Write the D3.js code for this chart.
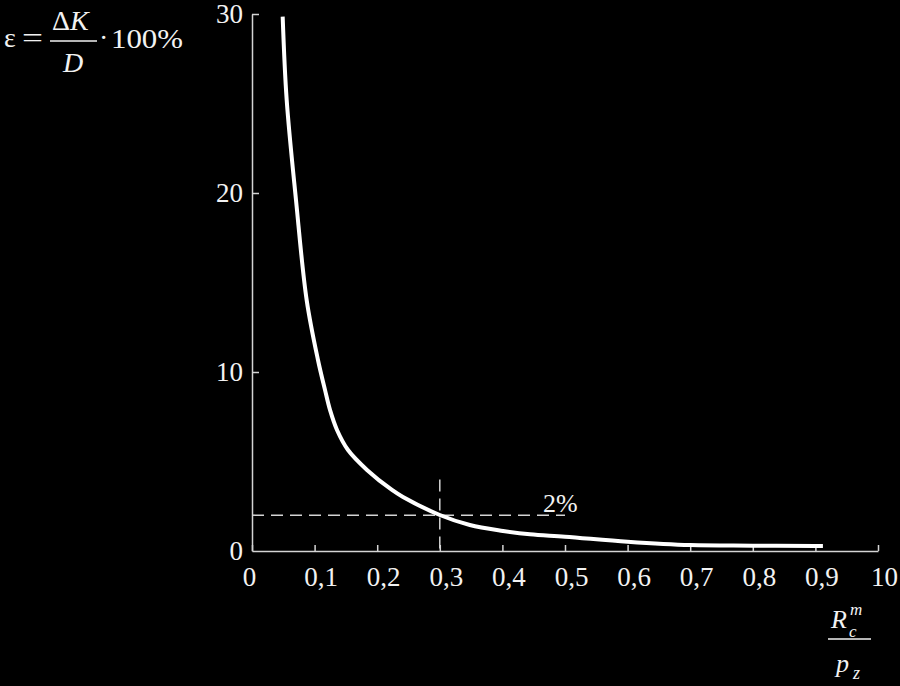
<!DOCTYPE html>
<html>
<head>
<meta charset="utf-8">
<script src="https://cdn.jsdelivr.net/npm/d3@7"></script>
<style>
  html, body { margin: 0; padding: 0; background: #000; }
  svg { display: block; }
  svg text { font-family: "Liberation Serif", "Times New Roman", Times, Tinos, "Noto Serif", "DejaVu Serif", serif; fill: #f2f2f2; }
</style>
</head>
<body>
<svg id="chart" width="900" height="686"></svg>
<script>
// ---- data ----
const xValues = [0.049, 0.0554, 0.0703, 0.0874, 0.1054, 0.1166, 0.1246, 0.1358, 0.1534, 0.1837, 0.2236, 0.2412, 0.300, 0.348, 0.401, 0.444, 0.500, 0.600, 0.700, 0.800, 0.900, 0.912];
const yValues = [29.85, 25.2, 19.6, 14.0, 10.67, 9.0, 7.88, 6.76, 5.64, 4.53, 3.41, 3.02, 2.01, 1.45, 1.12, 0.93, 0.80, 0.52, 0.33, 0.30, 0.28, 0.28];
const xTickValues = [0, 0.1, 0.2, 0.3, 0.4, 0.5, 0.6, 0.7, 0.8, 0.9, 1.0];
const xTickLabels = ["0", "0,1", "0,2", "0,3", "0,4", "0,5", "0,6", "0,7", "0,8", "0,9", "10"];
const yTickValues = [0, 10, 20, 30];
const yTickLabels = ["0", "10", "20", "30"];
const refX = 0.3, refY = 2, refYTop = 4, refXEnd = 0.5;
const refLabel = "2%";

// ---- layout ----
const serif = '"Liberation Serif", "Times New Roman", Times, Tinos, "Noto Serif", "DejaVu Serif", serif';
const svg = d3.select("#chart");
svg.append("rect").attr("width", 900).attr("height", 686).attr("fill", "#000");

const x = d3.scaleLinear().domain([0, 1]).range([252, 878]);
const y = d3.scaleLinear().domain([0, 30]).range([551, 14]);
const axisColor = "#d4d4d4";

// x axis
const gx = svg.append("g").attr("transform", `translate(0,${y(0)})`)
  .call(d3.axisBottom(x).tickValues(xTickValues)
    .tickFormat((d, i) => xTickLabels[i])
    .tickSize(-6).tickSizeOuter(0).tickPadding(16));
gx.attr("font-family", serif).attr("font-size", 27);
gx.select(".domain").attr("stroke", axisColor).attr("stroke-width", 1.5);
gx.selectAll(".tick line").attr("stroke", axisColor).attr("stroke-width", 1.5);
gx.selectAll(".tick text").attr("fill", "#f2f2f2")
  .attr("dx", (d, i) => i === 0 ? -3 : 6);

// y axis
const gy = svg.append("g").attr("transform", `translate(${x(0)},0)`)
  .call(d3.axisLeft(y).tickValues(yTickValues)
    .tickFormat((d, i) => yTickLabels[i])
    .tickSize(-7).tickSizeOuter(0).tickPadding(9));
gy.attr("font-family", serif).attr("font-size", 27);
gy.select(".domain").attr("stroke", axisColor).attr("stroke-width", 1.5);
gy.selectAll(".tick line").attr("stroke", axisColor).attr("stroke-width", 1.5);
gy.selectAll(".tick text").attr("fill", "#f2f2f2");
gy.selectAll(".tick").filter(d => d === 0).select("line").remove();

// reference dashed lines
svg.append("line")
  .attr("x1", x(0)).attr("x2", x(refXEnd)).attr("y1", y(refY)).attr("y2", y(refY))
  .attr("stroke", axisColor).attr("stroke-width", 1.5).attr("stroke-dasharray", "12,7");
svg.append("line")
  .attr("x1", x(refX)).attr("x2", x(refX)).attr("y1", y(refYTop)).attr("y2", y(0))
  .attr("stroke", axisColor).attr("stroke-width", 1.5).attr("stroke-dasharray", "12,7");
svg.append("text").attr("x", x(refXEnd) - 22).attr("y", y(refY) - 3)
  .attr("font-size", 26).text(refLabel);

// curve
const pts = xValues.map((v, i) => [v, yValues[i]]);
svg.append("path").datum(pts)
  .attr("fill", "none").attr("stroke", "#ffffff").attr("stroke-width", 4)
  .attr("stroke-linecap", "butt")
  .attr("d", d3.line().x(d => x(d[0])).y(d => y(d[1])).curve(d3.curveCatmullRom.alpha(0.5)));

// y-axis label: ε = ΔK/D ·100%
const yl = svg.append("g").attr("font-size", 28);
yl.append("text").attr("x", 4).attr("y", 47).text("ε");
yl.append("text").attr("x", 22).attr("y", 47).attr("textLength", 21).attr("lengthAdjust", "spacingAndGlyphs").text("=");
yl.append("text").attr("x", 52).attr("y", 30)
  .html('Δ<tspan font-style="italic">K</tspan>');
yl.append("line").attr("x1", 50).attr("x2", 97).attr("y1", 41).attr("y2", 41)
  .attr("stroke", "#f2f2f2").attr("stroke-width", 1.5);
yl.append("text").attr("x", 63).attr("y", 72).attr("font-style", "italic").text("D");
yl.append("text").attr("x", 99).attr("y", 47).text("·");
yl.append("text").attr("x", 111).attr("y", 48).attr("textLength", 72).attr("lengthAdjust", "spacingAndGlyphs").text("100%");

// x-axis label: R_c^m / p_z
const xl = svg.append("g");
xl.append("text").attr("x", 831).attr("y", 628).attr("font-size", 26).attr("font-style", "italic").text("R");
xl.append("text").attr("x", 850).attr("y", 615).attr("font-size", 17).attr("font-style", "italic").text("m");
xl.append("text").attr("x", 849).attr("y", 637).attr("font-size", 17).attr("font-style", "italic").text("c");
xl.append("line").attr("x1", 828).attr("x2", 871).attr("y1", 639).attr("y2", 639)
  .attr("stroke", "#f2f2f2").attr("stroke-width", 1.5);
xl.append("text").attr("x", 836).attr("y", 672).attr("font-size", 26).attr("font-style", "italic").text("p");
xl.append("text").attr("x", 853).attr("y", 679).attr("font-size", 18).attr("font-style", "italic").text("z");
</script>
</body>
</html>
